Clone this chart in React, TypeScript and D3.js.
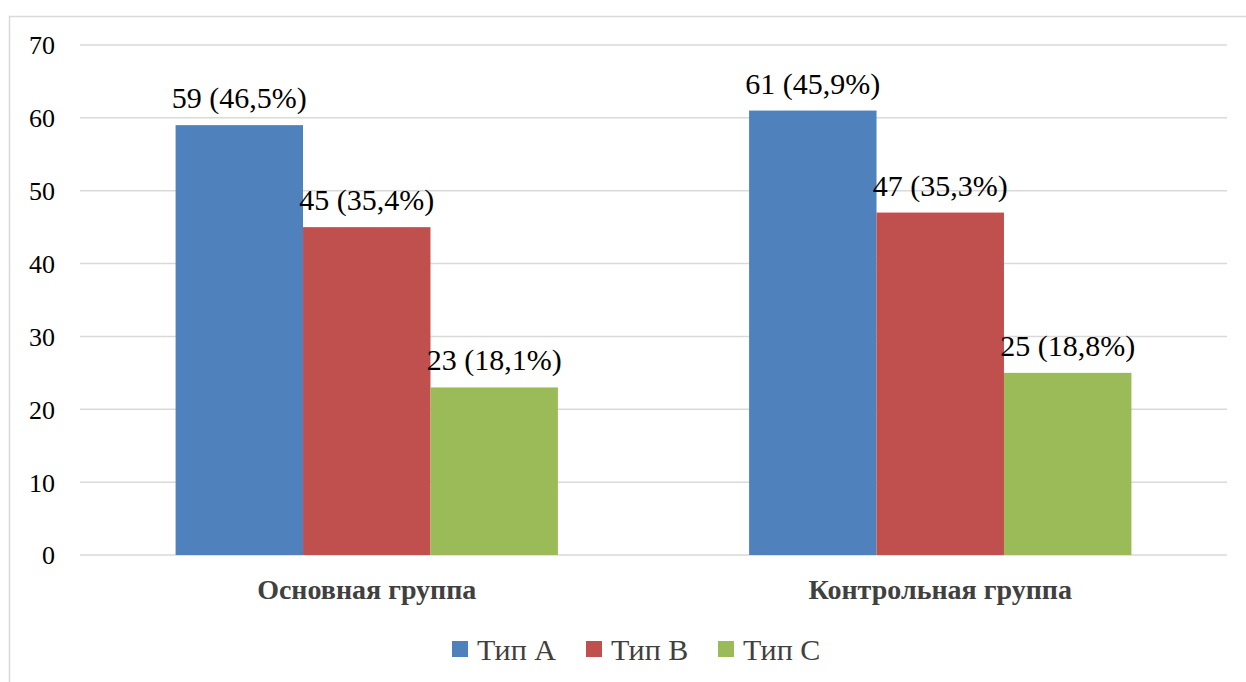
import React from "react";
import * as d3 from "d3";

const groups = ["Основная группа", "Контрольная группа"];
const seriesNames = ["Тип A", "Тип B", "Тип C"];
const seriesColors = ["#4f81bd", "#c0504d", "#9bbb59"];
const counts = [
  [59, 45, 23],
  [61, 47, 25],
];
const percents = [
  ["46,5%", "35,4%", "18,1%"],
  ["45,9%", "35,3%", "18,8%"],
];
const yTicks = [0, 10, 20, 30, 40, 50, 60, 70];

const W = 1246;
const H = 682;
const plot = { left: 80, right: 1227, top: 45, bottom: 555 };
const font = '"Liberation Serif", "Times New Roman", "DejaVu Serif", "Liberation Sans", sans-serif';

export default function App() {
  const y = d3.scaleLinear().domain([0, 70]).range([plot.bottom, plot.top]);
  const x0 = d3.scaleBand<string>().domain(groups).range([plot.left, plot.right]).padding(0);
  // bars fill two thirds of each category slot (150% gap width)
  const innerWidth = x0.bandwidth() / 1.5;
  const x1 = d3.scaleBand<string>().domain(seriesNames).range([0, innerWidth]).padding(0);

  const legendX = [452, 586, 718];

  return (
    <svg
      width={W}
      height={H}
      style={{ position: "absolute", left: 0, top: 0, background: "#fff", fontFamily: font }}
    >
      <rect x={9.5} y={16.5} width={W} height={H} fill="#fff" stroke="#d9d9d9" strokeWidth={1.5} />
      {yTicks.map((t) => (
        <g key={t}>
          <line x1={plot.left} x2={plot.right} y1={y(t)} y2={y(t)} stroke="#d9d9d9" strokeWidth={1.5} />
          <text
            x={55}
            y={y(t)}
            dy="0.36em"
            textAnchor="end"
            style={{ fontFamily: font, fontSize: 26 }}
            fill="#000"
          >
            {t}
          </text>
        </g>
      ))}
      {groups.map((g, gi) => {
        const gx = (x0(g) ?? 0) + (x0.bandwidth() - innerWidth) / 2;
        return (
          <g key={g}>
            {seriesNames.map((s, si) => {
              const bx = gx + (x1(s) ?? 0);
              const v = counts[gi][si];
              return (
                <g key={s}>
                  <rect
                    x={bx}
                    y={y(v)}
                    width={x1.bandwidth()}
                    height={y(0) - y(v)}
                    fill={seriesColors[si]}
                  />
                  <text
                    x={bx + x1.bandwidth() / 2}
                    y={y(v) - 17}
                    textAnchor="middle"
                    style={{ fontFamily: font, fontSize: 30 }}
                    fill="#000"
                  >
                    {`${v} (${percents[gi][si]})`}
                  </text>
                </g>
              );
            })}
            <text
              x={(x0(g) ?? 0) + x0.bandwidth() / 2}
              y={599}
              textAnchor="middle"
              style={{ fontFamily: font, fontSize: 28, fontWeight: "bold" }}
              fill="#404040"
            >
              {g}
            </text>
          </g>
        );
      })}
      {seriesNames.map((s, si) => (
        <g key={s}>
          <rect x={legendX[si]} y={641} width={16} height={16} fill={seriesColors[si]} />
          <text
            x={legendX[si] + 25}
            y={660}
            style={{ fontFamily: font, fontSize: 30 }}
            fill="#404040"
          >
            {s}
          </text>
        </g>
      ))}
    </svg>
  );
}
